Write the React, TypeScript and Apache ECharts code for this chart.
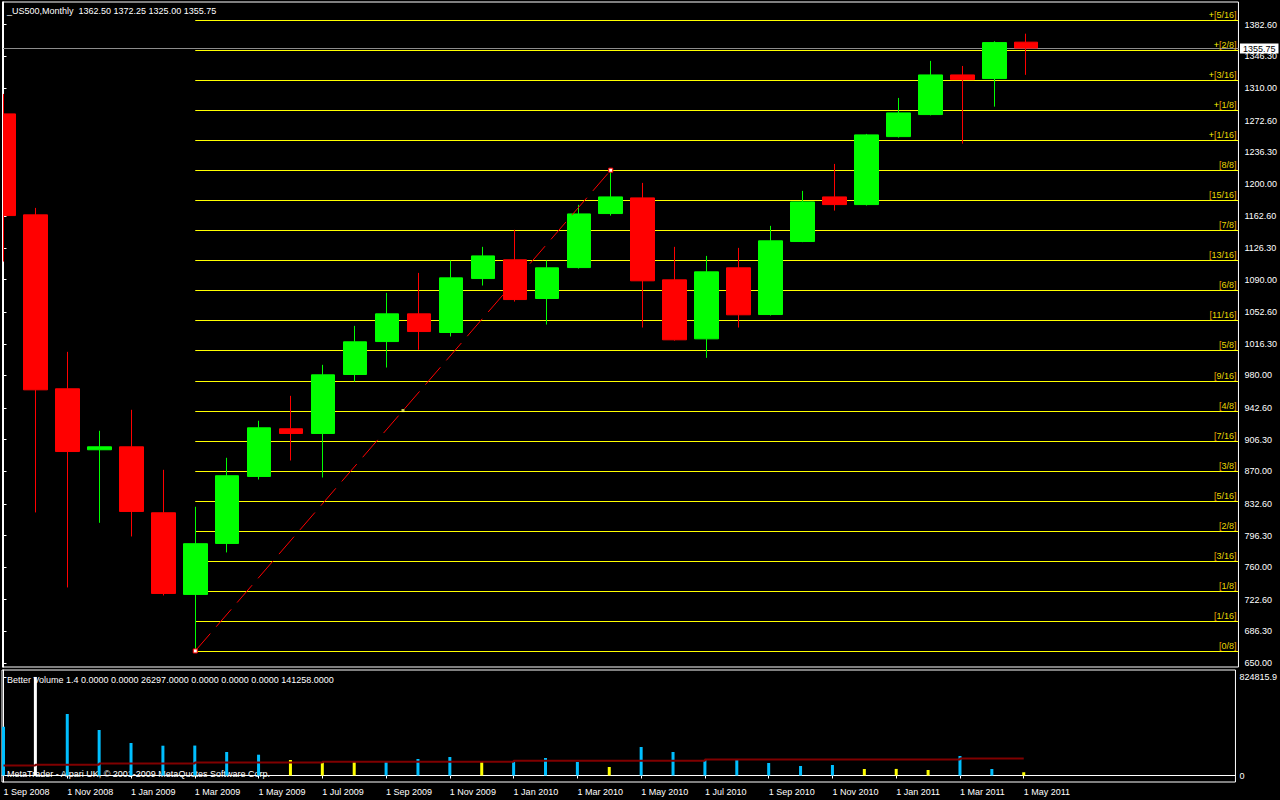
import React, { useEffect, useRef } from 'react';
import * as echarts from 'echarts';

// ---------- data ----------
const months = [
  'Sep 2008', 'Oct 2008', 'Nov 2008', 'Dec 2008', 'Jan 2009', 'Feb 2009', 'Mar 2009', 'Apr 2009',
  'May 2009', 'Jun 2009', 'Jul 2009', 'Aug 2009', 'Sep 2009', 'Oct 2009', 'Nov 2009', 'Dec 2009',
  'Jan 2010', 'Feb 2010', 'Mar 2010', 'Apr 2010', 'May 2010', 'Jun 2010', 'Jul 2010', 'Aug 2010',
  'Sep 2010', 'Oct 2010', 'Nov 2010', 'Dec 2010', 'Jan 2011', 'Feb 2011', 'Mar 2011', 'Apr 2011',
  'May 2011',
];

const opens = [
  1280.2, 1164.3, 964.7, 894.7, 898.1, 822.4, 728.7, 787.2, 864.1, 918.8, 913.4, 981.1, 1018.9,
  1050.7, 1029.3, 1091.2, 1112.7, 1068.3, 1103.8, 1165.8, 1183.8, 1089.7, 1022.0, 1103.5, 1049.9,
  1133.7, 1184.9, 1176.1, 1254.1, 1279.4, 1324.9, 1320.7, 1362.5,
];
const highs = [
  1303.1, 1172.3, 1007.1, 916.5, 940.6, 871.7, 829.3, 885.5, 928.0, 956.6, 992.2, 1036.9, 1074.8,
  1097.7, 1111.9, 1127.6, 1147.1, 1111.9, 1175.8, 1215.6, 1201.0, 1127.6, 1117.2, 1126.4, 1151.7,
  1191.8, 1222.8, 1257.2, 1298.5, 1341.0, 1335.2, 1363.5, 1372.25,
];
const lows = [
  1110.7, 822.8, 736.7, 810.9, 795.2, 727.5, 663.8, 776.9, 860.6, 882.4, 862.9, 973.0, 989.1,
  1009.4, 1024.7, 1083.2, 1064.8, 1038.4, 1102.7, 1163.5, 1035.0, 1020.0, 1000.2, 1035.0, 1048.8,
  1133.0, 1169.2, 1175.0, 1253.0, 1278.5, 1246.1, 1288.5, 1325.0,
];
const closes = [
  1163.5, 963.5, 892.7, 898.1, 823.9, 729.8, 786.9, 864.9, 919.9, 913.4, 980.7, 1018.6, 1050.7,
  1030.4, 1092.0, 1117.2, 1067.1, 1103.5, 1165.4, 1184.9, 1088.6, 1020.9, 1098.9, 1049.6, 1134.5,
  1179.2, 1176.1, 1256.1, 1281.3, 1324.9, 1319.5, 1362.0, 1355.75,
];

const volumes = [
  408500, 824815.9, 514800, 380800, 272000, 249400, 250600, 196700, 174100, 129700, 110500, 115500,
  115500, 138100, 154800, 113000, 114200, 146500, 113000, 71100, 238500, 196700, 129700, 130900,
  104600, 79500, 87900, 54400, 55100, 46000, 163200, 54400, 26297,
];
// n = normal, c = climax, l = low volume
const volumeKinds = [
  'n', 'c', 'n', 'n', 'n', 'n', 'n', 'n', 'n', 'l', 'l', 'l', 'n', 'n', 'n', 'l', 'n', 'n', 'n', 'l',
  'n', 'n', 'n', 'n', 'n', 'n', 'n', 'l', 'l', 'l', 'n', 'n', 'l',
];
const volumeMA = [
  82700, 91000, 91000, 99400, 99400, 99400, 107800, 107800, 107800, 107800, 116100, 116100, 116100,
  116100, 116100, 116100, 124500, 124500, 124500, 124500, 124500, 124500, 132900, 132900, 132900,
  132900, 132900, 132900, 132900, 132900, 141258, 141258, 141258,
];

const priceTicks = [
  650.0, 686.3, 722.6, 760.0, 796.3, 832.6, 870.0, 906.3, 942.6, 980.0, 1016.3, 1052.6, 1090.0,
  1126.3, 1162.6, 1200.0, 1236.3, 1272.6, 1310.0, 1346.3, 1382.6,
];
const volumeTicks = [0, 824815.9];
const dateTickIndices = [0, 2, 4, 6, 8, 10, 12, 14, 16, 18, 20, 22, 24, 26, 28, 30, 32];

const TREND_LOW_IDX = 6; // Mar 2009 low
const TREND_HIGH_IDX = 19; // Apr 2010 high
const MURREY_STEPS = 21; // 0/16 .. 21/16 (+5/16)

// ---------- layout / style constants ----------
const X_MIN = -0.046875;
const X_MAX = 38.640625;
const PRICE_MIN = 645.4;
const PRICE_MAX = 1408.6;
const VOL_MIN = -54400;
const VOL_MAX = 883000;
const FONT_FAMILY = '"Liberation Sans", Arial, sans-serif';
const FONT = `9px ${FONT_FAMILY}`;

const volumeColors: Record<string, string> = { n: '#00bfff', c: '#ffffff', l: '#ffff00' };

function frac(m: number) {
  return m % 2 === 0 ? `${m / 2}/8` : `${m}/16`;
}
function murreyLabel(k: number) {
  if (k > 16) return `{y|+}{o|[}{t|${frac(k - 16)}}{o|]}`;
  return `{o|[}{t|${frac(k)}}{o|]}`;
}

export default function App() {
  const ref = useRef<HTMLDivElement>(null);

  useEffect(() => {
    document.body.style.margin = '0';
    document.body.style.background = '#000';
    const chart = echarts.init(ref.current!, null, { renderer: 'svg' });

    const last = closes.length - 1;
    const candleData = months.map((_, i) => [i, opens[i], closes[i], lows[i], highs[i]]);
    const volumeData = volumes.map((v, i) => ({
      value: [i, v],
      itemStyle: { color: volumeColors[volumeKinds[i]] },
    }));
    const maData = volumeMA.map((v, i) => [i, v]);

    const mLow = lows[TREND_LOW_IDX];
    const mHigh = highs[TREND_HIGH_IDX];
    const murreyData: number[][] = [];
    for (let k = 0; k <= MURREY_STEPS; k++) {
      murreyData.push([TREND_LOW_IDX, mLow + ((mHigh - mLow) * k) / 16, k]);
    }

    const header = `_US500,Monthly\u00a0\u00a0${opens[last].toFixed(2)} ${highs[last].toFixed(2)} ${lows[last].toFixed(
      2
    )} ${closes[last].toFixed(2)}`;
    const volHeader = `Better Volume 1.4 0.0000 0.0000 ${volumes[last].toFixed(
      4
    )} 0.0000 0.0000 0.0000 ${volumeMA[last].toFixed(4)}`;

    const richStyle = {
      y: { fill: '#ffff00', fontSize: 9, fontFamily: FONT_FAMILY },
      o: { fill: '#f0a000', fontSize: 9, fontFamily: FONT_FAMILY },
      t: { fill: '#e8d800', fontSize: 9, fontFamily: FONT_FAMILY },
    };

    const option: any = {
      animation: false,
      backgroundColor: '#000000',
      textStyle: { fontFamily: FONT_FAMILY },
      graphic: [
        { type: 'text', left: 7, top: 6, style: { text: header, fill: '#ffffff', font: FONT } },
        { type: 'text', left: 7, top: 675, style: { text: volHeader, fill: '#ffffff', font: FONT } },
        {
          type: 'text',
          left: 7,
          top: 769,
          style: { text: 'MetaTrader - Alpari UK, © 2001-2009 MetaQuotes Software Corp.', fill: '#ffffff', font: FONT },
        },
        // mask + frame at the left edge so the partly visible first candle is cut at the frame
        { type: 'rect', left: 0, top: 0, z: 100, shape: { width: 2, height: 668 }, style: { fill: '#000000' } },
        {
          type: 'line',
          z: 101,
          shape: { x1: 2.5, y1: 2, x2: 2.5, y2: 667 },
          style: { stroke: '#ffffff', lineWidth: 1 },
        },
      ],
      grid: [
        { left: 2, top: 2, width: 1238, height: 665, show: true, borderColor: '#ffffff', borderWidth: 1, backgroundColor: 'transparent' },
        { left: 2, top: 670, width: 1238, height: 112, show: true, borderColor: '#ffffff', borderWidth: 1, backgroundColor: 'transparent' },
      ],
      xAxis: [
        { type: 'value', gridIndex: 0, min: X_MIN, max: X_MAX, show: false, splitLine: { show: false } },
        {
          type: 'value',
          gridIndex: 1,
          min: X_MIN,
          max: X_MAX,
          position: 'bottom',
          splitLine: { show: false },
          axisLine: { show: true, lineStyle: { color: '#ffffff', width: 1 } },
          axisTick: { show: true, length: 3, customValues: dateTickIndices, lineStyle: { color: '#ffffff' } },
          axisLabel: {
            customValues: dateTickIndices,
            formatter: (v: number) => `1 ${months[Math.round(v)]}`,
            color: '#ffffff',
            fontSize: 9,
            fontFamily: FONT_FAMILY,
            align: 'left',
            margin: 5,
          },
        },
      ],
      yAxis: [
        {
          type: 'value',
          gridIndex: 0,
          position: 'right',
          min: PRICE_MIN,
          max: PRICE_MAX,
          splitLine: { show: false },
          axisLine: { show: true, lineStyle: { color: '#ffffff' } },
          axisTick: { show: true, length: 3, customValues: priceTicks, lineStyle: { color: '#ffffff' } },
          axisLabel: {
            customValues: priceTicks,
            formatter: (v: number) => v.toFixed(2),
            color: '#ffffff',
            fontSize: 9,
            fontFamily: FONT_FAMILY,
            margin: 6,
          },
        },
        {
          type: 'value',
          gridIndex: 1,
          position: 'right',
          min: VOL_MIN,
          max: VOL_MAX,
          splitLine: { show: false },
          axisLine: { show: true, lineStyle: { color: '#ffffff' } },
          axisTick: { show: true, length: 3, customValues: volumeTicks, lineStyle: { color: '#ffffff' } },
          axisLabel: {
            customValues: volumeTicks,
            formatter: (v: number) => (v === 0 ? '0' : v.toFixed(1)),
            color: '#ffffff',
            fontSize: 9,
            fontFamily: FONT_FAMILY,
            margin: 4,
          },
        },
      ],
      series: [
        {
          name: 'current',
          type: 'custom',
          xAxisIndex: 0,
          yAxisIndex: 0,
          z: 1,
          clip: false,
          silent: true,
          data: [[X_MIN, closes[last]]],
          renderItem: (_p: any, api: any) => {
            const price = api.value(1);
            const a = api.coord([X_MIN, price]);
            const b = api.coord([X_MAX, price]);
            const y = Math.round(a[1]) + 0.5;
            return {
              type: 'group',
              children: [
                { type: 'line', shape: { x1: a[0], y1: y, x2: b[0], y2: y }, style: { stroke: '#8c8c8c', lineWidth: 1 } },
                {
                  type: 'text',
                  x: b[0] + 1.5,
                  y: y,
                  style: {
                    text: price.toFixed(2),
                    fill: '#000000',
                    backgroundColor: '#ffffff',
                    padding: [1, 3, 0, 3],
                    align: 'left',
                    verticalAlign: 'middle',
                    font: FONT,
                  },
                },
              ],
            };
          },
        },
        {
          name: 'murrey',
          type: 'custom',
          xAxisIndex: 0,
          yAxisIndex: 0,
          z: 1,
          clip: true,
          silent: true,
          data: murreyData,
          renderItem: (_p: any, api: any) => {
            const lv = api.value(1);
            const k = api.value(2);
            const a = api.coord([api.value(0), lv]);
            const b = api.coord([X_MAX, lv]);
            const y = Math.round(a[1]) + 0.5;
            return {
              type: 'group',
              children: [
                { type: 'line', shape: { x1: a[0], y1: y, x2: b[0], y2: y }, style: { stroke: '#ffff00', lineWidth: 1 } },
                {
                  type: 'text',
                  x: b[0] - 2,
                  y: y - 1.5,
                  style: {
                    text: murreyLabel(k),
                    rich: richStyle,
                    align: 'right',
                    verticalAlign: 'bottom',
                    font: FONT,
                  },
                },
              ],
            };
          },
        },
        {
          name: 'US500',
          type: 'candlestick',
          xAxisIndex: 0,
          yAxisIndex: 0,
          z: 3,
          barWidth: 24,
          data: candleData,
          itemStyle: {
            color: '#00ff00',
            color0: '#ff0000',
            borderColor: '#00ff00',
            borderColor0: '#ff0000',
            borderWidth: 1,
          },
        },
        {
          name: 'trend',
          type: 'line',
          xAxisIndex: 0,
          yAxisIndex: 0,
          z: 4,
          silent: true,
          data: [
            [TREND_LOW_IDX, mLow],
            [TREND_HIGH_IDX, mHigh],
          ],
          symbol: 'rect',
          symbolSize: 4,
          itemStyle: { color: '#ffffff', borderColor: '#ff0000', borderWidth: 1 },
          lineStyle: { color: '#ff0000', width: 1, type: [23, 9] },
        },
        {
          name: 'trendMid',
          type: 'scatter',
          xAxisIndex: 0,
          yAxisIndex: 0,
          z: 5,
          silent: true,
          symbol: 'rect',
          symbolSize: 3,
          data: [[(TREND_LOW_IDX + TREND_HIGH_IDX) / 2, (mLow + mHigh) / 2]],
          itemStyle: { color: '#ffff66' },
        },
        {
          name: 'volume',
          type: 'bar',
          xAxisIndex: 1,
          yAxisIndex: 1,
          z: 3,
          barWidth: 3,
          data: volumeData,
        },
        {
          name: 'volumeMA',
          type: 'line',
          xAxisIndex: 1,
          yAxisIndex: 1,
          z: 4,
          step: 'end',
          symbol: 'none',
          data: maData,
          lineStyle: { color: '#800000', width: 2 },
        },
      ],
    };

    chart.setOption(option);
    return () => chart.dispose();
  }, []);

  return <div ref={ref} style={{ width: 1280, height: 800, background: '#000' }} />;
}
